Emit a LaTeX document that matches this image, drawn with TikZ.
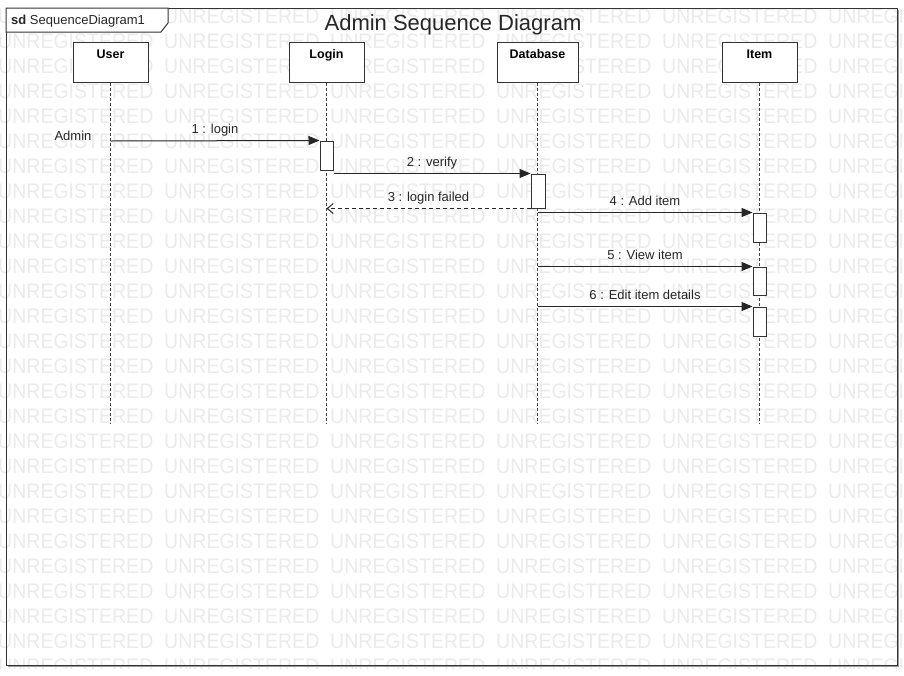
\documentclass[tikz,border=0pt]{standalone}
\usepackage{fontspec}
\setmainfont{Liberation Sans}
\newfontfamily\wmfont[FakeStretch=0.93]{Liberation Sans}
\usetikzlibrary{arrows.meta}
\begin{document}
\begin{tikzpicture}[x=1pt,y=-1pt,
  wm/.style={anchor=base west, inner sep=0, text=black!8, font=\wmfont\fontsize{21}{21}\selectfont},
  frame/.style={draw=black!80, line width=1pt},
  lifebox/.style={draw=black!80, fill=white, line width=1pt, minimum width=75, minimum height=40,
    inner ysep=0, text height=16, text depth=24, font=\bfseries\fontsize{12.5}{14}\selectfont},
  act/.style={draw=black!80, fill=white, line width=1pt, minimum width=13, minimum height=29, inner sep=0},
  lifeline/.style={draw=black!75, line width=0.9pt, dash pattern=on 3pt off 2pt},
  msg/.style={draw=black!85, line width=1pt, -{Triangle[length=11pt,width=9pt]}},
  ret/.style={draw=black!85, line width=1pt, dash pattern=on 4pt off 3pt, -{Straight Barb[length=6pt,width=10pt]}},
  lbl/.style={font=\fontsize{13}{15}\selectfont, anchor=base, inner sep=0, yshift=7.5pt, text=black!85},
  txt/.style={font=\fontsize{13}{15}\selectfont, anchor=base, inner sep=0, text=black!85}
]
\useasboundingbox (0,0) rectangle (904,675);
\fill[white] (0,0) rectangle (904,675);
% watermark
\begin{scope}
  \clip (0,0) rectangle (904,668);
  \foreach \r in {0,...,26} {
    \foreach \c in {0,...,5} {
      \node[wm] (wm-\r-\c) at ({-2+166*\c},{23+25*\r}) {UNREGISTERED};
    }
  }
\end{scope}
% frame
\draw[black!40, line width=1pt] (8,666.5) -- (898.5,666.5) -- (898.5,10);
\draw[frame] (6,8) rectangle (897,665);
\draw[frame, fill=white] (6,8) -- (168,8) -- (168,23) -- (161,32) -- (6,32) -- cycle;
\node[txt, anchor=base west] (tab) at (11,24) {\textbf{sd} SequenceDiagram1};
\node[txt, font=\fontsize{22}{26}\selectfont] (title) at (453,30) {Admin Sequence Diagram};
% lifeline heads
\node[lifebox] (user) at (110.5,62) {User};
\node[lifebox] (login) at (326.5,62) {Login};
\node[lifebox, minimum width=81] (db) at (537.5,62) {Database};
\node[lifebox] (item) at (759.5,62) {Item};
\coordinate (userend) at (110.5,423);
\coordinate (loginend) at (326.5,423);
\coordinate (dbend) at (537.5,423);
\coordinate (itemend) at (759.5,423);
\draw[lifeline] (user.south) -- (userend);
\draw[lifeline] (login.south) -- (loginend);
\draw[lifeline] (db.south) -- (dbend);
\draw[lifeline] (item.south) -- (itemend);
% activations
\node[act] (a1) at (326.5,155.5) {};
\node[act, minimum width=14, minimum height=34] (a2) at (538,191) {};
\node[act] (a4) at (759.5,227.5) {};
\node[act, minimum height=28] (a5) at (759.5,281) {};
\node[act] (a6) at (759.5,321.5) {};
% actor label
\node[txt] (admin) at (73,140) {Admin};
% messages
\coordinate (u1) at (110.5,141);
\draw[msg] (u1) -- node[lbl] (l1) {1 : login} (a1.north west);
\draw[msg] (a1.east |- a2.north west) -- node[lbl] (l2) {2 : verify} (a2.north west);
\draw[ret] (a2.south west) -- node[lbl] (l3) {3 : login failed} (a2.south west -| login.south);
\draw[msg] (db.south |- a4.north west) -- node[lbl] (l4) {4 : Add item} (a4.north west);
\draw[msg] (db.south |- a5.north west) -- node[lbl] (l5) {5 : View item} (a5.north west);
\draw[msg] (db.south |- a6.north west) -- node[lbl] (l6) {6 : Edit item details} (a6.north west);
\end{tikzpicture}
\end{document}
